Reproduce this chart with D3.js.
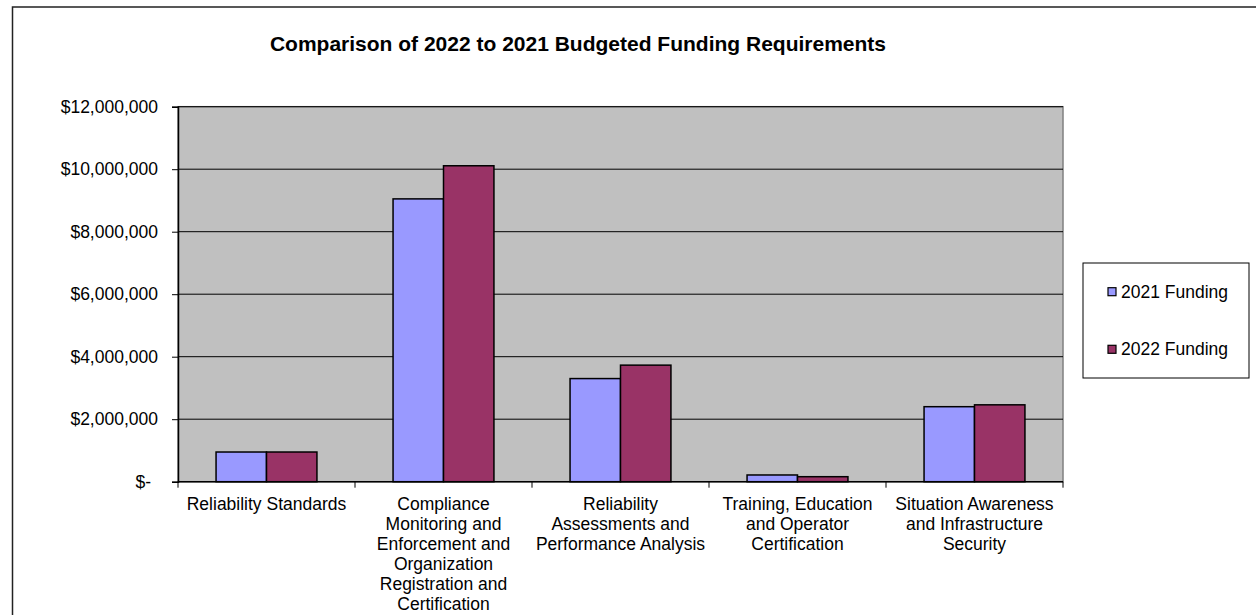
<!DOCTYPE html>
<html>
<head>
<meta charset="utf-8">
<script src="https://cdn.jsdelivr.net/npm/d3@7"></script>
<style>
  html, body { margin: 0; padding: 0; background: #fff; }
  svg { display: block; font-family: "Liberation Sans", Arial, sans-serif; }
</style>
</head>
<body>
<div id="chart"></div>
<script>
// data
const categories = [
  ['Reliability Standards'],
  ['Compliance', 'Monitoring and', 'Enforcement and', 'Organization', 'Registration and', 'Certification'],
  ['Reliability', 'Assessments and', 'Performance Analysis'],
  ['Training, Education', 'and Operator', 'Certification'],
  ['Situation Awareness', 'and Infrastructure', 'Security']
];
const seriesNames = ['2021 Funding', '2022 Funding'];
const funding2021 = [950000, 9050000, 3300000, 215000, 2400000];
const funding2022 = [950000, 10110000, 3730000, 160000, 2460000];
const yTicks = [0, 2000000, 4000000, 6000000, 8000000, 10000000, 12000000];
const colors = ['#9999FF', '#993366'];

const W = 1256, H = 615;
const plot = {left: 178, right: 1063, top: 106.7, bottom: 481.7};

const svg = d3.select('#chart').append('svg').attr('width', W).attr('height', H);

// outer chart area border
svg.append('rect').attr('x', 12.5).attr('y', 7).attr('width', W + 20).attr('height', H + 20)
  .attr('fill', '#fff').attr('stroke', '#222').attr('stroke-width', 1.5);

svg.append('text').text('Comparison of 2022 to 2021 Budgeted Funding Requirements')
  .attr('x', 578).attr('y', 51).attr('text-anchor', 'middle')
  .style('font-size', '21px').style('font-weight', 'bold').attr('fill', '#000');

const x0 = d3.scaleBand().domain(d3.range(categories.length))
  .range([plot.left, plot.right]).paddingInner(0.43).paddingOuter(0.215);
const x1 = d3.scaleBand().domain([0, 1]).range([0, x0.bandwidth()]);
const y = d3.scaleLinear().domain([0, 12000000]).range([plot.bottom, plot.top]);

svg.append('rect').attr('x', plot.left).attr('y', plot.top)
  .attr('width', plot.right - plot.left).attr('height', plot.bottom - plot.top)
  .attr('fill', '#C0C0C0').attr('stroke', '#808080').attr('stroke-width', 1.5);

// gridlines
svg.append('g').selectAll('line').data(yTicks.slice(1)).join('line')
  .attr('x1', plot.left).attr('x2', plot.right)
  .attr('y1', d => y(d)).attr('y2', d => y(d))
  .attr('stroke', '#000').attr('stroke-width', 1);

// y axis
const yAxis = svg.append('g').attr('transform', `translate(${plot.left},0)`)
  .call(d3.axisLeft(y).tickValues(yTicks).tickSize(6).tickPadding(14)
    .tickFormat(d => d === 0 ? '$-' : '$' + d3.format(',')(d)));
yAxis.select('.domain').attr('stroke', '#000').attr('stroke-width', 1.5);
yAxis.selectAll('.tick line').attr('stroke', '#000');
yAxis.selectAll('.tick text').style('font-size', '17.5px').style('font-family', '"Liberation Sans", Arial, sans-serif').attr('fill', '#000');
yAxis.selectAll('.tick text').filter(d => d === 0).attr('dx', -7);

// bars
const groups = svg.append('g').selectAll('g').data(categories.map((c, i) => i)).join('g')
  .attr('transform', i => `translate(${x0(i)},0)`);
groups.selectAll('rect').data(i => [funding2021[i], funding2022[i]]).join('rect')
  .attr('x', (d, j) => x1(j)).attr('width', x1.bandwidth())
  .attr('y', d => y(d)).attr('height', d => y(0) - y(d))
  .attr('fill', (d, j) => colors[j]).attr('stroke', '#000').attr('stroke-width', 1.5);

// x axis baseline and category ticks
svg.append('line').attr('x1', plot.left).attr('x2', plot.right)
  .attr('y1', plot.bottom).attr('y2', plot.bottom).attr('stroke', '#000').attr('stroke-width', 1.5);
const step = x0.step();
svg.append('g').selectAll('line').data(d3.range(categories.length + 1)).join('line')
  .attr('x1', i => plot.left + i * step).attr('x2', i => plot.left + i * step)
  .attr('y1', plot.bottom).attr('y2', plot.bottom + 6).attr('stroke', '#000');

const labels = svg.append('g').selectAll('text').data(categories).join('text')
  .attr('x', (d, i) => x0(i) + x0.bandwidth() / 2).attr('y', plot.bottom + 28)
  .attr('text-anchor', 'middle').style('font-size', '17.5px').attr('fill', '#000');
labels.selectAll('tspan').data(d => d).join('tspan')
  .attr('x', function() { return d3.select(this.parentNode).attr('x'); })
  .attr('dy', (d, k) => k === 0 ? 0 : 20).text(d => d);

// legend
const legend = svg.append('g');
legend.append('rect').attr('x', 1083).attr('y', 263).attr('width', 166).attr('height', 115)
  .attr('fill', '#fff').attr('stroke', '#000').attr('stroke-width', 1);
const items = legend.selectAll('g').data(seriesNames).join('g')
  .attr('transform', (d, i) => `translate(1108,${291.7 + i * 57.6})`);
items.append('rect').attr('x', 0).attr('y', -4).attr('width', 8).attr('height', 8)
  .attr('fill', (d, i) => colors[i]).attr('stroke', '#000').attr('stroke-width', 1.2);
items.append('text').text(d => d).attr('x', 13).attr('y', 6)
  .style('font-size', '17.5px').attr('fill', '#000');
</script>
</body>
</html>
